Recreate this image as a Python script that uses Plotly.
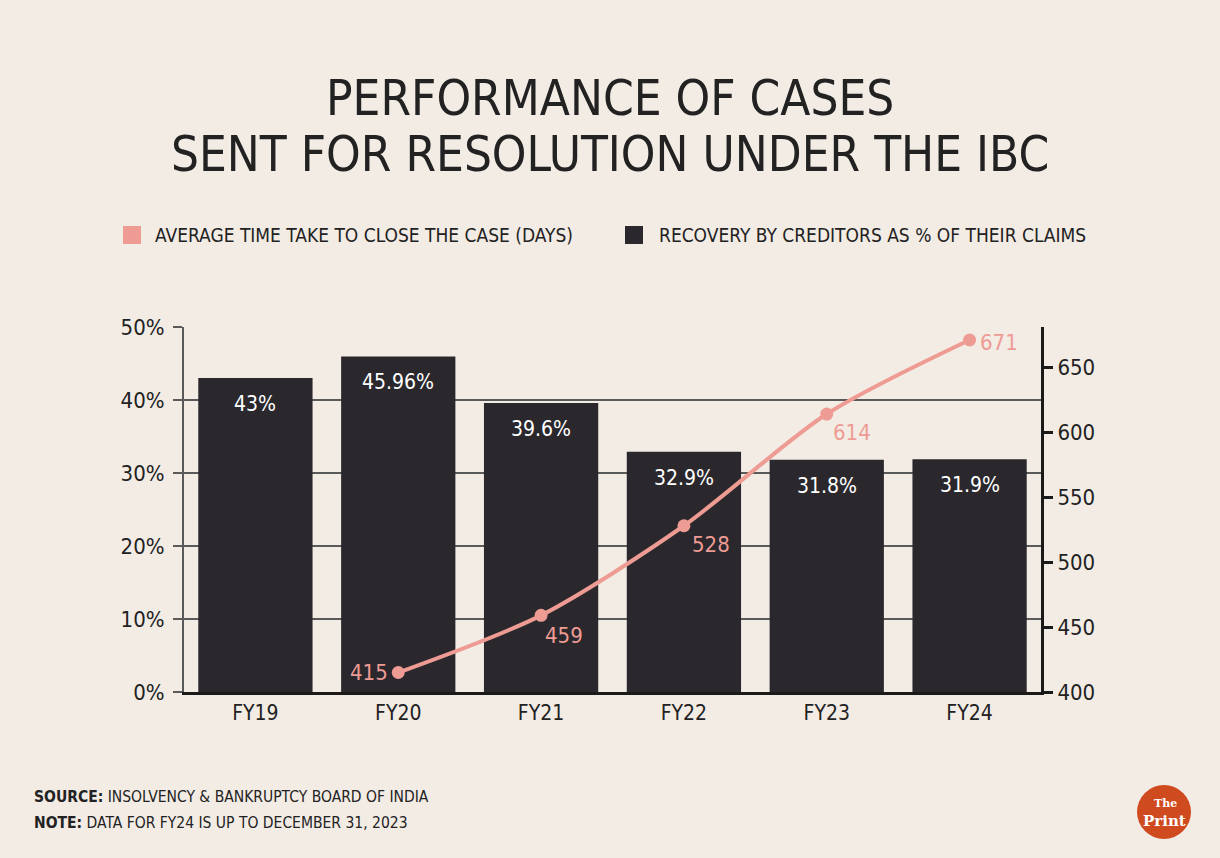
import plotly.graph_objects as go

categories = ["FY19", "FY20", "FY21", "FY22", "FY23", "FY24"]
recovery_pct = [43, 45.96, 39.6, 32.9, 31.8, 31.9]
recovery_labels = ["43%", "45.96%", "39.6%", "32.9%", "31.8%", "31.9%"]
days_categories = ["FY20", "FY21", "FY22", "FY23", "FY24"]
avg_days = [415, 459, 528, 614, 671]
left_ticks = [0, 10, 20, 30, 40, 50]
left_tick_labels = ["0%", "10%", "20%", "30%", "40%", "50%"]
right_ticks = [400, 450, 500, 550, 600, 650]
legend_names = ["AVERAGE TIME TAKE TO CLOSE THE CASE (DAYS)", "RECOVERY BY CREDITORS AS % OF THEIR CLAIMS"]

BG = "#F3ECE5"
DARK = "#2A282D"
SALMON = "#EE9B94"
TXT = "#222222"
FONT = "DejaVu Sans Condensed, Liberation Sans Narrow, sans-serif"

W, H = 1220, 858
ML, MR, MT, MB = 184, 179, 327, 166
PW, PH = W - ML - MR, H - MT - MB


def px(x):
    return (x - ML) / PW


def py(y):
    return (H - MB - y) / PH


fig = go.Figure()

fig.add_trace(go.Bar(x=categories, y=recovery_pct, name=legend_names[1],
                     marker=dict(color=DARK, line=dict(width=0)), showlegend=False, hoverinfo="skip"))
fig.add_trace(go.Scatter(x=days_categories, y=avg_days, yaxis="y2", mode="lines+markers", name=legend_names[0],
                         line=dict(color=SALMON, width=4, shape="spline", smoothing=0.8),
                         marker=dict(color=SALMON, size=13), showlegend=False))

annotations = []
for c, v, t in zip(categories, recovery_pct, recovery_labels):
    annotations.append(dict(x=c, y=v, xref="x", yref="y", text=t, showarrow=False,
                            yanchor="top", yshift=-12,
                            font=dict(family=FONT, size=21, color="white")))

offsets = {
    "FY20": dict(xanchor="right", yanchor="middle", xshift=-8, yshift=0),
    "FY21": dict(xanchor="left", yanchor="top", xshift=2, yshift=-6),
    "FY22": dict(xanchor="left", yanchor="top", xshift=6, yshift=-4),
    "FY23": dict(xanchor="left", yanchor="top", xshift=4, yshift=-4),
    "FY24": dict(xanchor="left", yanchor="middle", xshift=8, yshift=-3),
}
for c, v in zip(days_categories, avg_days):
    o = offsets[c]
    annotations.append(dict(x=c, y=v, xref="x", yref="y2", text=str(v), showarrow=False,
                            font=dict(family=FONT, size=22, color=SALMON), **o))

# title
annotations.append(dict(xref="paper", yref="paper", x=px(610), y=py(98), text="PERFORMANCE OF CASES",
                        showarrow=False, xanchor="center", yanchor="middle",
                        font=dict(family=FONT, size=49, color=TXT)))
annotations.append(dict(xref="paper", yref="paper", x=px(610), y=py(155),
                        text="SENT FOR RESOLUTION UNDER THE IBC",
                        showarrow=False, xanchor="center", yanchor="middle",
                        font=dict(family=FONT, size=49, color=TXT)))
# legend (manual)
annotations.append(dict(xref="paper", yref="paper", x=px(153), y=py(235), text=legend_names[0],
                        showarrow=False, xanchor="left", yanchor="middle",
                        font=dict(family=FONT, size=19, color=TXT)))
annotations.append(dict(xref="paper", yref="paper", x=px(657), y=py(235), text=legend_names[1],
                        showarrow=False, xanchor="left", yanchor="middle",
                        font=dict(family=FONT, size=19, color=TXT)))
# footer
annotations.append(dict(xref="paper", yref="paper", x=px(32), y=py(797),
                        text="<b>SOURCE:</b> INSOLVENCY & BANKRUPTCY BOARD OF INDIA",
                        showarrow=False, xanchor="left", yanchor="middle",
                        font=dict(family=FONT, size=15.5, color=TXT)))
annotations.append(dict(xref="paper", yref="paper", x=px(32), y=py(823),
                        text="<b>NOTE:</b> DATA FOR FY24 IS UP TO DECEMBER 31, 2023",
                        showarrow=False, xanchor="left", yanchor="middle",
                        font=dict(family=FONT, size=15.5, color=TXT)))
# logo
annotations.append(dict(xref="paper", yref="paper", x=px(1165), y=py(803),
                        text="<b>The</b>", showarrow=False, xanchor="center", yanchor="middle",
                        font=dict(family="DejaVu Serif, Liberation Serif, serif", size=11, color="white")))
annotations.append(dict(xref="paper", yref="paper", x=px(1164), y=py(821),
                        text="<b>Print</b>", showarrow=False, xanchor="center", yanchor="middle",
                        font=dict(family="DejaVu Serif, Liberation Serif, serif", size=15, color="white")))

shapes = [
    dict(type="circle", xref="paper", yref="paper",
         x0=px(1137), x1=px(1191), y0=py(839), y1=py(785),
         fillcolor="#CF4A1F", line=dict(width=0), layer="below"),
    dict(type="rect", xref="paper", yref="paper", x0=px(123), x1=px(141), y0=py(244), y1=py(226),
         fillcolor=SALMON, line=dict(width=0)),
    dict(type="rect", xref="paper", yref="paper", x0=px(625), x1=px(643), y0=py(244), y1=py(226),
         fillcolor=DARK, line=dict(width=0)),
]

fig.update_layout(
    width=W, height=H,
    paper_bgcolor=BG, plot_bgcolor=BG,
    margin=dict(l=ML, r=MR, t=MT, b=MB),
    bargap=0.2,
    showlegend=False,
    xaxis=dict(type="category", categoryorder="array", categoryarray=categories,
               showline=True, linecolor="#1a1a1a", linewidth=3, ticks="", showgrid=False,
               tickfont=dict(family=FONT, size=21, color=TXT), ticklabelstandoff=0),
    yaxis=dict(range=[0, 50], tickvals=left_ticks, ticktext=left_tick_labels,
               showline=True, linecolor="#5a5a5a", linewidth=2, ticks="outside", ticklen=9,
               tickcolor="#5a5a5a", tickwidth=2, showgrid=True, gridcolor="#5a5a5a", gridwidth=2,
               zeroline=False, tickfont=dict(family=FONT, size=22, color=TXT), ticklabelstandoff=4),
    yaxis2=dict(range=[400, 681], tickvals=right_ticks, overlaying="y", side="right",
                showline=True, linecolor="#1a1a1a", linewidth=3, ticks="outside", ticklen=9,
                tickcolor="#1a1a1a", tickwidth=3, showgrid=False, zeroline=False,
                tickfont=dict(family=FONT, size=22, color=TXT)),
    annotations=annotations,
    shapes=shapes,
)

fig.write_html("out.html", config={"displayModeBar": False},
               post_script="document.body.style.margin='0px';document.body.style.overflow='hidden';")
